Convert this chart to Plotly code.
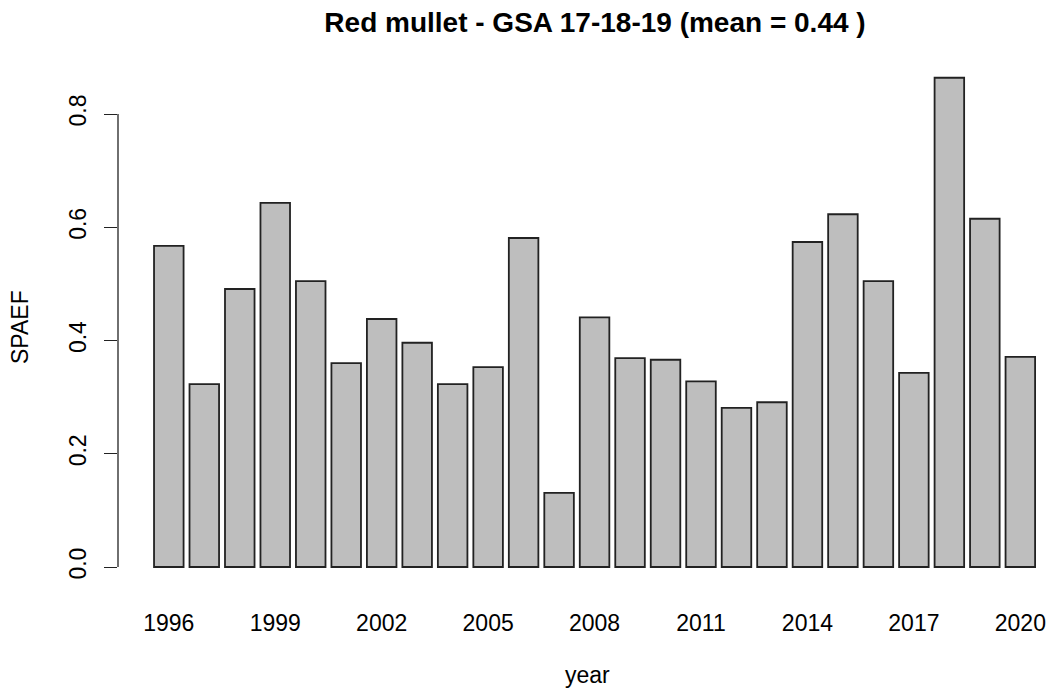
import plotly.graph_objects as go

# SPAEF index for red mullet, GSA 17-18-19, by survey year
years = list(range(1996, 2021))
spaef = [0.567, 0.323, 0.491, 0.643, 0.505,
         0.360, 0.438, 0.396, 0.323, 0.353,
         0.581, 0.131, 0.441, 0.369, 0.366,
         0.328, 0.281, 0.291, 0.574, 0.623,
         0.505, 0.343, 0.864, 0.615, 0.371]
x_tick_years = list(range(1996, 2021, 3))
y_ticks = [0.0, 0.2, 0.4, 0.6, 0.8]
y_tick_text = ["0.0", "0.2", "0.4", "0.6", "0.8"]

mean_val = sum(spaef) / len(spaef)
title_text = f"Red mullet - GSA 17-18-19 (mean = {mean_val:.2f} )"

FONT = "Liberation Sans, Arial, sans-serif"
W, H = 1050, 688
ML, MR, MT, MB = 118, 2, 58, 101

fig = go.Figure(go.Bar(
    x=years,
    y=spaef,
    width=0.833,
    marker=dict(color="#bebebe", line=dict(color="#222222", width=1.8)),
    hoverinfo="x+y",
))

fig.update_layout(
    width=W, height=H,
    margin=dict(l=ML, r=MR, t=MT, b=MB, pad=0),
    paper_bgcolor="white", plot_bgcolor="white",
    showlegend=False,
    font=dict(family=FONT, color="black", size=23),
    title=dict(
        text=f"<b>{title_text}</b>",
        font=dict(family=FONT, size=28, color="black"),
        xref="container", yref="container",
        x=595 / W, y=1 - 22 / H,
        xanchor="center", yanchor="middle",
    ),
    xaxis=dict(
        range=[1994.568, 2020.78],
        tickmode="array", tickvals=x_tick_years,
        ticktext=[str(v) for v in x_tick_years],
        ticks="outside", ticklen=15, tickcolor="rgba(0,0,0,0)",
        showline=False, showgrid=False, zeroline=False,
        tickfont=dict(size=23),
    ),
    yaxis=dict(
        range=[-0.0353, 0.8989],
        tickmode="array", tickvals=y_ticks, ticktext=y_tick_text,
        tickangle=-90,
        ticks="outside", ticklen=13, tickwidth=1.3, tickcolor="#222",
        showline=False, showgrid=False, zeroline=False,
        tickfont=dict(size=23),
        ticklabelstandoff=9,
    ),
)

# y axis line spanning only the labelled tick range
fig.add_shape(type="line", xref="paper", yref="y",
              x0=0, x1=0, y0=y_ticks[0], y1=y_ticks[-1],
              line=dict(color="#222", width=1.3))

# axis titles
fig.add_annotation(text="year", xref="paper", yref="paper",
                   x=(587 - ML) / (W - ML - MR), y=-(675 - (H - MB)) / (H - MT - MB),
                   xanchor="center", yanchor="middle", showarrow=False,
                   font=dict(size=23, family=FONT))
fig.add_annotation(text="SPAEF", xref="paper", yref="paper",
                   x=-(ML - 20) / (W - ML - MR), y=(H - MB - 327) / (H - MT - MB),
                   xanchor="center", yanchor="middle", showarrow=False,
                   textangle=-90, font=dict(size=23, family=FONT))

fig.write_html("out.html")
